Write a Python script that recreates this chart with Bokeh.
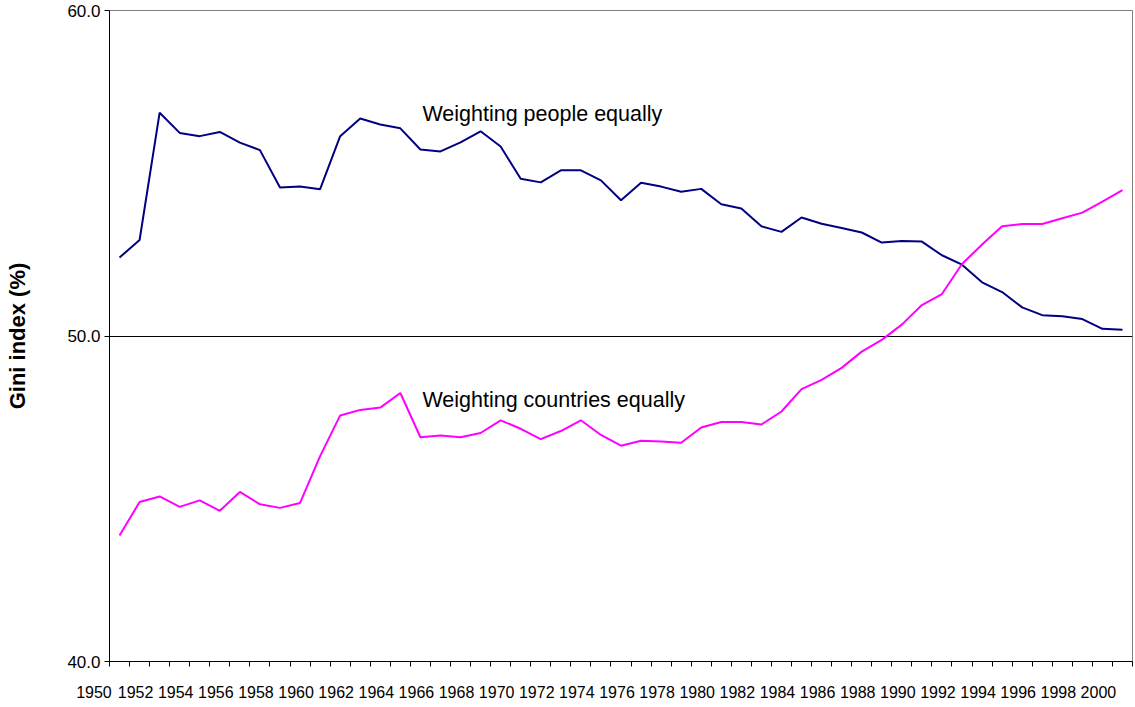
from bokeh.plotting import figure
from bokeh.models import (Range1d, FixedTicker, Label, LinearAxis, Grid)
from bokeh.embed import file_html
from bokeh.resources import INLINE

# ---------------- data ----------------
years = list(range(1950, 2001))

people_equal = [
    52.41, 52.95, 56.86, 56.24, 56.14, 56.27, 55.94, 55.71, 54.56, 54.59,
    54.51, 56.14, 56.68, 56.50, 56.38, 55.73, 55.67, 55.95, 56.29, 55.82,
    54.83, 54.72, 55.09, 55.09, 54.78, 54.17, 54.71, 54.59, 54.43, 54.52,
    54.05, 53.92, 53.37, 53.20, 53.64, 53.45, 53.32, 53.18, 52.87, 52.92,
    52.90, 52.48, 52.19, 51.65, 51.35, 50.88, 50.64, 50.61, 50.52, 50.22,
    50.19,
]

countries_equal = [
    43.87, 44.90, 45.07, 44.75, 44.95, 44.63, 45.21, 44.83, 44.72, 44.87,
    46.31, 47.56, 47.73, 47.80, 48.25, 46.89, 46.94, 46.89, 47.02, 47.41,
    47.15, 46.83, 47.08, 47.41, 46.96, 46.63, 46.78, 46.76, 46.72, 47.19,
    47.36, 47.36, 47.28, 47.68, 48.37, 48.65, 49.02, 49.52, 49.88, 50.35,
    50.95, 51.29, 52.21, 52.81, 53.37, 53.44, 53.44, 53.62, 53.79, 54.13,
    54.48,
]

x_label_years = list(range(1950, 2001, 2))
y_ticks = [40, 50, 60]
y_tick_labels = ["40.0", "50.0", "60.0"]

series_labels = ["Weighting people equally", "Weighting countries equally"]
y_axis_title = "Gini index (%)"

# ---------------- figure ----------------
FONT = "Liberation Sans"
NBSP = "\u00a0"
LABEL_SHIFT = 1.2   # reference draws year labels ~1.2 categories left of their point

p = figure(width=1134, height=703, output_backend="svg", toolbar_location=None,
           x_range=Range1d(years[0] - 0.5, years[-1] + 0.5),
           y_range=Range1d(y_ticks[0], y_ticks[-1]),
           x_axis_type=None, y_axis_type=None,
           min_border_left=109, min_border_right=2,
           min_border_top=10, min_border_bottom=41)

p.background_fill_color = "white"
p.border_fill_color = "white"
p.outline_line_color = "#808080"
p.outline_line_width = 1

# x axis 1: tick marks on category boundaries, no labels
boundaries = [y - 0.5 for y in years] + [years[-1] + 0.5]
xticks_axis = LinearAxis(ticker=FixedTicker(ticks=boundaries, minor_ticks=[]))
xticks_axis.major_label_overrides = {b: "" for b in boundaries}
xticks_axis.major_label_text_font_size = "0px"
xticks_axis.major_label_standoff = 0
xticks_axis.major_tick_out = 5
xticks_axis.major_tick_in = 0
xticks_axis.minor_tick_line_color = None
xticks_axis.axis_line_color = "black"
xticks_axis.major_tick_line_color = "black"
p.add_layout(xticks_axis, "below")

# x axis 2: year labels only
first_pos = years[0] - 0.5
label_pos = [first_pos] + [yr - LABEL_SHIFT for yr in x_label_years[1:]]
label_txt = [str(x_label_years[0]) + NBSP * 7] + [str(yr) for yr in x_label_years[1:]]
xlabels_axis = LinearAxis(ticker=FixedTicker(ticks=label_pos, minor_ticks=[]))
xlabels_axis.major_label_overrides = dict(zip(label_pos, label_txt))
xlabels_axis.major_label_text_font = FONT
xlabels_axis.major_label_text_font_size = "16px"
xlabels_axis.major_label_text_color = "black"
xlabels_axis.major_label_standoff = 17
xlabels_axis.major_tick_out = 0
xlabels_axis.major_tick_in = 0
xlabels_axis.major_tick_line_color = None
xlabels_axis.minor_tick_line_color = None
xlabels_axis.axis_line_color = None
p.add_layout(xlabels_axis, "below")

# y axis
yaxis = LinearAxis(ticker=FixedTicker(ticks=y_ticks, minor_ticks=[]),
                   axis_label=y_axis_title)
yaxis.major_label_overrides = {t: l for t, l in zip(y_ticks, y_tick_labels)}
yaxis.major_label_text_font = FONT
yaxis.major_label_text_font_size = "17px"
yaxis.major_label_text_color = "black"
yaxis.major_label_standoff = 4
yaxis.major_tick_out = 5
yaxis.major_tick_in = 0
yaxis.minor_tick_line_color = None
yaxis.axis_line_color = "black"
yaxis.major_tick_line_color = "black"
yaxis.axis_label_text_font = FONT
yaxis.axis_label_text_font_size = "22px"
yaxis.axis_label_text_font_style = "bold"
yaxis.axis_label_text_color = "black"
yaxis.axis_label_standoff = 34
p.add_layout(yaxis, "left")

# single horizontal gridline at 50
p.add_layout(Grid(dimension=1, ticker=FixedTicker(ticks=[50]),
                  grid_line_color="black", grid_line_width=1))

# lines
p.line(years, people_equal, line_color="#000080", line_width=2)
p.line(years, countries_equal, line_color="#FF00FF", line_width=2)

# series annotations
p.add_layout(Label(x=1965.1, y=56.81, text=series_labels[0],
                   text_font=FONT, text_font_size="21.5px",
                   text_baseline="alphabetic", text_align="left",
                   text_color="black"))
p.add_layout(Label(x=1965.1, y=48.02, text=series_labels[1],
                   text_font=FONT, text_font_size="21.5px",
                   text_baseline="alphabetic", text_align="left",
                   text_color="black"))

open("out.html", "w").write(file_html(p, INLINE))
